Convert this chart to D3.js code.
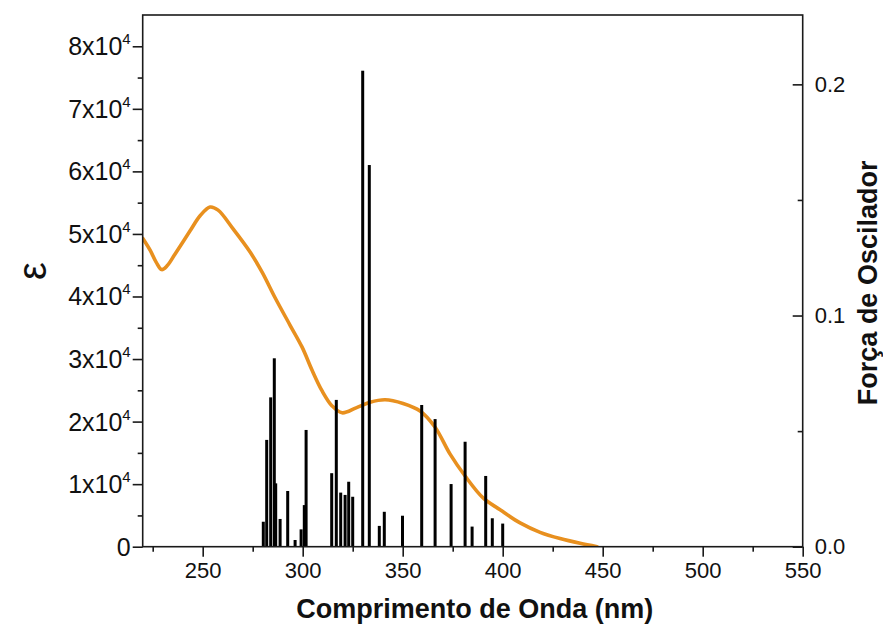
<!DOCTYPE html>
<html>
<head>
<meta charset="utf-8">
<script src="https://cdn.jsdelivr.net/npm/d3@7"></script>
<style>
  body { margin: 0; background: #fff; }
  svg { display: block; }
  text { font-family: "Liberation Sans", Arial, sans-serif; fill: #111; }
</style>
</head>
<body>
<svg id="chart" width="883" height="634"></svg>
<script>
// Calculated electronic transitions: wavelength (nm) and oscillator strength
const transitionWl = [280.3, 282.0, 284.0, 285.8, 286.5, 288.7, 292.5, 296.2, 299.2, 300.8, 301.7,
                      314.5, 316.8, 319.0, 321.2, 323.0, 325.0, 330.0, 333.3, 338.3, 340.8, 349.9,
                      359.5, 366.2, 374.2, 381.2, 384.7, 391.5, 394.8, 400.0];
const transitionF  = [0.0108, 0.0462, 0.0646, 0.0815, 0.0274, 0.0120, 0.0241, 0.0029, 0.0075, 0.0180, 0.0505,
                      0.0318, 0.0635, 0.0234, 0.0224, 0.0281, 0.0216, 0.2059, 0.1651, 0.0090, 0.0151, 0.0134,
                      0.0613, 0.0552, 0.0271, 0.0454, 0.0087, 0.0306, 0.0123, 0.0100];

// Experimental absorption spectrum: wavelength (nm) and molar absorptivity
const spectrumWl  = [220, 223.7, 226.7, 229.5, 232.2, 236.2, 243.7, 248.7, 253.7, 257.7, 265.2, 273.7,
                     279.7, 286.2, 293.7, 299.7, 304.7, 309.7, 314.7, 319.7, 326.7, 333.7, 341.2, 350.2,
                     358.7, 366.2, 373.7, 381.2, 390.2, 398.7, 408.7, 418.7, 428.7, 438.7, 447.2];
const spectrumEps = [49300, 47400, 45500, 44300, 44900, 46800, 50500, 52900, 54300, 53800, 50800, 47100,
                     43900, 39800, 35400, 31900, 28200, 24900, 22500, 21400, 22200, 23100, 23500, 22900,
                     21700, 19100, 14800, 11300, 7800, 5900, 3800, 2300, 1300, 540, 0];

// Axis ticks
const wlMajor  = [250, 300, 350, 400, 450, 500, 550];
const wlMinor  = [225, 275, 325, 375, 425, 475, 525];
const epsMajor = [0, 10000, 20000, 30000, 40000, 50000, 60000, 70000, 80000];
const epsMinor = [5000, 15000, 25000, 35000, 45000, 55000, 65000, 75000];
const fMajor   = [0.0, 0.1, 0.2];
const fMinor   = [0.05, 0.15];

const svg = d3.select("#chart");
const L = 142.7, R = 802.7, T = 15, B = 546.7;

const x  = d3.scaleLinear().domain([220, 550]).range([L, R]);
const yL = d3.scaleLinear().domain([0, 85000]).range([B, T]);
const yR = d3.scaleLinear().domain([0, 0.23]).range([B, T]);

svg.append("defs").append("clipPath").attr("id", "plotClip")
  .append("rect").attr("x", L).attr("y", T).attr("width", R - L).attr("height", B - T);

const plot = svg.append("g").attr("clip-path", "url(#plotClip)");

// Absorption spectrum
const line = d3.line()
  .x((d, i) => x(spectrumWl[i]))
  .y(d => yL(d))
  .curve(d3.curveCatmullRom.alpha(0.5));

plot.append("path")
  .attr("d", line(spectrumEps))
  .attr("fill", "none")
  .attr("stroke", "#E8901F")
  .attr("stroke-width", 3.6)
  .attr("stroke-linejoin", "round")
  .attr("stroke-linecap", "round");

// Oscillator strength sticks
plot.selectAll("rect.stick")
  .data(transitionF)
  .join("rect")
  .attr("class", "stick")
  .attr("x", (d, i) => x(transitionWl[i]) - 1.5)
  .attr("width", 3)
  .attr("y", d => yR(d))
  .attr("height", d => yR(0) - yR(d))
  .attr("fill", "#000");

// Frame
svg.append("rect")
  .attr("x", L).attr("y", T).attr("width", R - L).attr("height", B - T)
  .attr("fill", "none").attr("stroke", "#1a1a1a").attr("stroke-width", 1.6);

function styleAxis(g) {
  g.select(".domain").remove();
  g.selectAll(".tick line").attr("stroke", "#1a1a1a").attr("stroke-width", 1.6);
}

// Bottom axis
const gx = svg.append("g").attr("transform", `translate(0,${B})`)
  .call(d3.axisBottom(x).tickValues(wlMajor).tickSize(10).tickPadding(6).tickFormat(d3.format("d")));
styleAxis(gx);
gx.selectAll(".tick text").attr("font-size", 22).attr("font-family", "Liberation Sans, Arial, sans-serif").attr("fill", "#111");
const gxm = svg.append("g").attr("transform", `translate(0,${B})`)
  .call(d3.axisBottom(x).tickValues(wlMinor).tickSize(5).tickFormat(() => ""));
styleAxis(gxm);

// Left axis (molar absorptivity)
const gy = svg.append("g").attr("transform", `translate(${L},0)`)
  .call(d3.axisLeft(yL).tickValues(epsMajor).tickSize(10).tickFormat(() => ""));
styleAxis(gy);
const gym = svg.append("g").attr("transform", `translate(${L},0)`)
  .call(d3.axisLeft(yL).tickValues(epsMinor).tickSize(5).tickFormat(() => ""));
styleAxis(gym);

const epsLabels = svg.append("g");
epsMajor.forEach(v => {
  const t = epsLabels.append("text")
    .attr("x", L - 12)
    .attr("y", yL(v) + 9)
    .attr("text-anchor", "end")
    .attr("font-size", 25);
  if (v === 0) {
    t.text("0");
  } else {
    t.append("tspan").text(`${v / 10000}x10`);
    t.append("tspan").attr("font-size", 15).attr("dy", -11).text("4");
  }
});

// Right axis (oscillator strength), ticks pointing inward
const gr = svg.append("g").attr("transform", `translate(${R},0)`)
  .call(d3.axisRight(yR).tickValues(fMajor).tickSizeInner(-10).tickSizeOuter(0).tickPadding(12).tickFormat(d3.format(".1f")));
styleAxis(gr);
gr.selectAll(".tick text").attr("font-size", 22).attr("font-family", "Liberation Sans, Arial, sans-serif").attr("fill", "#111");
const grm = svg.append("g").attr("transform", `translate(${R},0)`)
  .call(d3.axisRight(yR).tickValues(fMinor).tickSizeInner(-5).tickSizeOuter(0).tickFormat(() => ""));
styleAxis(grm);

// Axis titles
svg.append("text")
  .attr("x", (L + R) / 2 + 2).attr("y", 618)
  .attr("text-anchor", "middle")
  .attr("font-size", 27).attr("font-weight", "bold")
  .text("Comprimento de Onda (nm)");

svg.append("text")
  .attr("transform", "translate(46,271) rotate(-90)")
  .attr("text-anchor", "middle")
  .attr("font-size", 40)
  .text("ε");

svg.append("text")
  .attr("transform", `translate(877,${(T + B) / 2 + 2}) rotate(-90)`)
  .attr("text-anchor", "middle")
  .attr("font-size", 27).attr("font-weight", "bold")
  .text("Força de Oscilador");
</script>
</body>
</html>
